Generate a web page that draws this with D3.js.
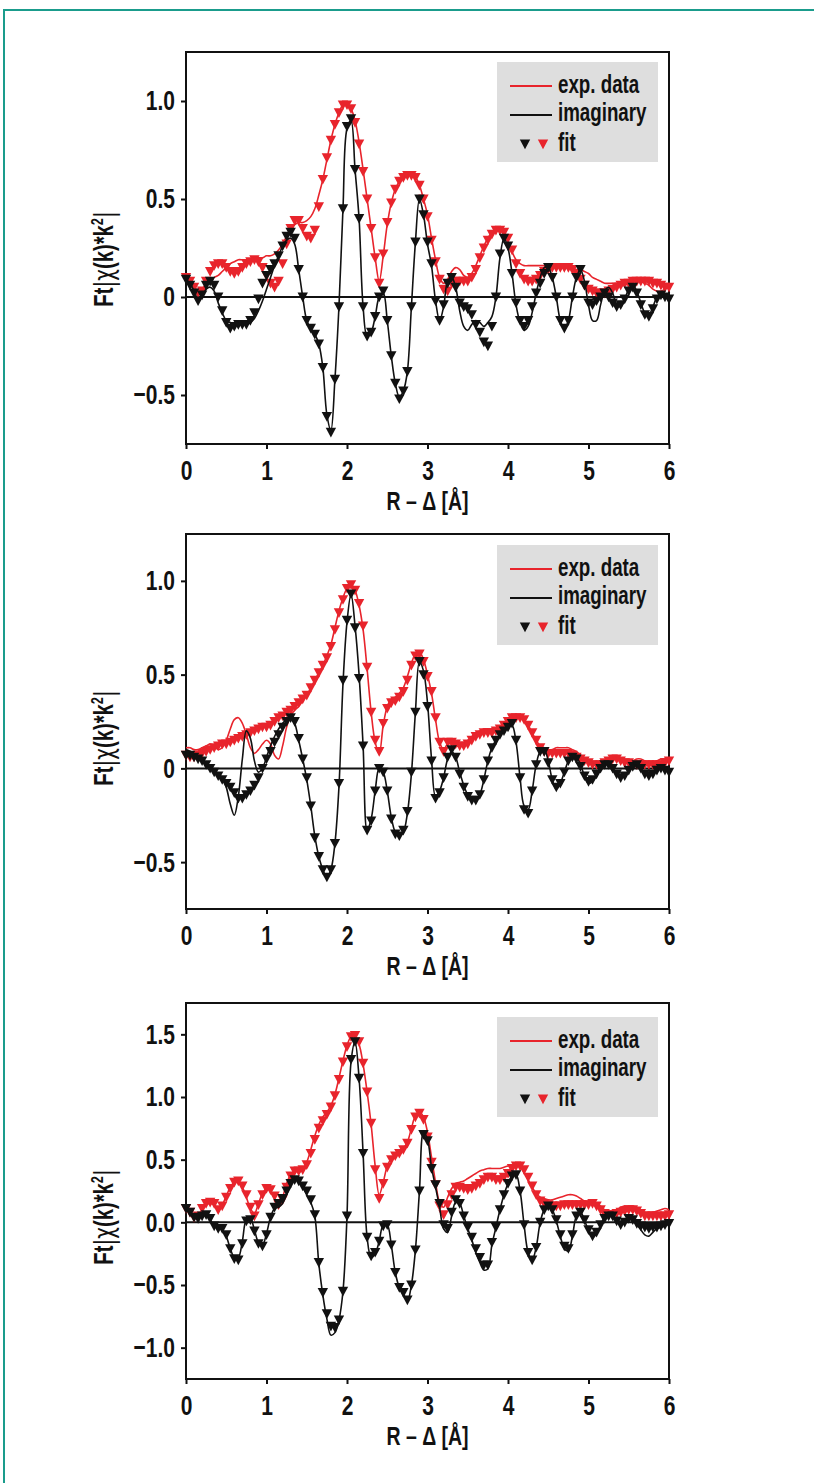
<!DOCTYPE html>
<html>
<head>
<meta charset="utf-8">
<script src="https://cdn.jsdelivr.net/npm/d3@7"></script>
<style>
  body { margin: 0; background: #fff; }
  svg text { font-family: "Liberation Sans", Arial, sans-serif; font-weight: bold; fill: #111; }
</style>
</head>
<body>
<div class="chart"></div>
<script>
// R grid of the transforms: 0 .. 6 A in 0.05 A steps (121 points)
var rGrid = d3.range(121).map(function(i) { return +(i * 0.05).toFixed(2); });

// ---- panel 1 ----
var p1MagExp = [
  0.09, 0.08, 0.05, 0.03, 0.04, 0.07, 0.09, 0.10, 0.11, 0.13,
  0.15, 0.17, 0.18, 0.19, 0.19, 0.19, 0.19, 0.20, 0.20, 0.20,
  0.21, 0.21, 0.22, 0.24, 0.27, 0.31, 0.35, 0.37, 0.38, 0.38,
  0.39, 0.41, 0.45, 0.52, 0.60, 0.70, 0.80, 0.88, 0.94, 0.98,
  0.98, 0.96, 0.90, 0.79, 0.65, 0.50, 0.35, 0.20, 0.08, 0.21,
  0.37, 0.48, 0.55, 0.59, 0.61, 0.62, 0.62, 0.61, 0.57, 0.50,
  0.42, 0.30, 0.19, 0.10, 0.07, 0.09, 0.13, 0.15, 0.14, 0.11,
  0.10, 0.12, 0.16, 0.21, 0.26, 0.30, 0.33, 0.34, 0.34, 0.32,
  0.28, 0.23, 0.19, 0.17, 0.16, 0.16, 0.16, 0.16, 0.16, 0.16,
  0.16, 0.16, 0.16, 0.15, 0.15, 0.15, 0.15, 0.14, 0.14, 0.13,
  0.12, 0.10, 0.09, 0.08, 0.07, 0.07, 0.07, 0.07, 0.06, 0.06,
  0.07, 0.08, 0.08, 0.08, 0.07, 0.06, 0.04, 0.03, 0.03, 0.04,
  0.05
];
var p1MagFit = [
  0.10, 0.08, 0.05, 0.02, 0.03, 0.08, 0.13, 0.16, 0.17, 0.17,
  0.15, 0.13, 0.12, 0.13, 0.15, 0.17, 0.18, 0.19, 0.18, 0.15,
  0.11, 0.07, 0.05, 0.08, 0.17, 0.27, 0.35, 0.39, 0.39, 0.35,
  0.31, 0.30, 0.34, 0.46, 0.60, 0.71, 0.80, 0.88, 0.94, 0.98,
  0.98, 0.96, 0.89, 0.78, 0.64, 0.50, 0.35, 0.20, 0.07, 0.22,
  0.38, 0.48, 0.55, 0.59, 0.61, 0.62, 0.62, 0.61, 0.57, 0.50,
  0.41, 0.29, 0.18, 0.09, 0.04, 0.03, 0.07, 0.08, 0.08, 0.08,
  0.08, 0.10, 0.14, 0.20, 0.25, 0.29, 0.32, 0.34, 0.34, 0.33,
  0.30, 0.24, 0.17, 0.12, 0.09, 0.08, 0.08, 0.09, 0.11, 0.13,
  0.14, 0.15, 0.15, 0.15, 0.15, 0.15, 0.14, 0.12, 0.09, 0.06,
  0.04, 0.03, 0.02, 0.02, 0.02, 0.03, 0.04, 0.05, 0.06, 0.07,
  0.07, 0.08, 0.08, 0.08, 0.08, 0.08, 0.07, 0.07, 0.06, 0.05,
  0.05
];
var p1ImExp = [
  0.09, 0.07, 0.03, -0.01, 0.00, 0.04, 0.05, 0.03, -0.03, -0.08,
  -0.12, -0.13, -0.14, -0.14, -0.14, -0.14, -0.13, -0.11, -0.07, -0.02,
  0.04, 0.10, 0.16, 0.21, 0.26, 0.29, 0.30, 0.27, 0.14, 0.00,
  -0.12, -0.16, -0.19, -0.24, -0.36, -0.60, -0.68, -0.42, -0.05, 0.45,
  0.86, 0.90, 0.65, 0.40, -0.05, -0.20, -0.18, -0.10, 0.00, 0.02,
  -0.12, -0.30, -0.44, -0.51, -0.48, -0.38, -0.05, 0.28, 0.50, 0.42,
  0.27, 0.16, -0.02, -0.12, -0.05, 0.08, 0.10, 0.05, -0.07, -0.15,
  -0.17, -0.14, -0.12, -0.13, -0.15, -0.13, -0.10, 0.00, 0.20, 0.30,
  0.25, 0.12, -0.04, -0.13, -0.17, -0.15, -0.08, 0.02, 0.10, 0.15,
  0.15, 0.10, 0.00, -0.12, -0.16, -0.12, 0.00, 0.10, 0.14, 0.08,
  -0.04, -0.12, -0.12, -0.04, 0.03, 0.05, 0.02, -0.04, -0.05, -0.01,
  0.04, 0.06, 0.03, -0.03, -0.08, -0.09, -0.05, 0.00, 0.02, 0.00,
  -0.01
];
var p1ImFit = [
  0.09, 0.06, 0.02, -0.02, 0.01, 0.06, 0.08, 0.06, 0.00, -0.07,
  -0.13, -0.16, -0.15, -0.14, -0.14, -0.14, -0.12, -0.08, -0.01, 0.07,
  0.11, 0.14, 0.17, 0.21, 0.26, 0.31, 0.33, 0.30, 0.14, 0.00,
  -0.12, -0.16, -0.19, -0.24, -0.36, -0.61, -0.69, -0.42, -0.05, 0.45,
  0.87, 0.91, 0.65, 0.40, -0.05, -0.20, -0.18, -0.10, 0.00, 0.03,
  -0.12, -0.30, -0.44, -0.52, -0.48, -0.38, -0.05, 0.28, 0.50, 0.42,
  0.28, 0.17, -0.02, -0.12, -0.04, 0.07, 0.10, 0.05, -0.03, -0.05,
  -0.06, -0.09, -0.14, -0.18, -0.23, -0.25, -0.15, 0.00, 0.22, 0.30,
  0.26, 0.12, -0.03, -0.12, -0.15, -0.12, -0.05, 0.02, 0.07, 0.12,
  0.15, 0.10, 0.00, -0.12, -0.16, -0.12, 0.00, 0.10, 0.14, 0.06,
  -0.03, -0.04, -0.02, 0.00, 0.02, 0.00, -0.03, -0.05, -0.04, -0.01,
  0.03, 0.05, 0.02, -0.04, -0.09, -0.10, -0.06, -0.01, 0.01, 0.00,
  -0.01
];

// ---- panel 2 ----
var p2MagExp = [
  0.11, 0.11, 0.10, 0.10, 0.11, 0.12, 0.13, 0.12, 0.10, 0.11,
  0.15, 0.21, 0.26, 0.27, 0.24, 0.18, 0.11, 0.08, 0.10, 0.13,
  0.15, 0.13, 0.07, 0.05, 0.12, 0.22, 0.28, 0.31, 0.33, 0.36,
  0.39, 0.43, 0.47, 0.51, 0.55, 0.60, 0.66, 0.75, 0.84, 0.91,
  0.96, 0.98, 0.95, 0.87, 0.74, 0.53, 0.30, 0.14, 0.08, 0.23,
  0.33, 0.37, 0.38, 0.40, 0.43, 0.49, 0.56, 0.61, 0.62, 0.58,
  0.50, 0.40, 0.26, 0.14, 0.10, 0.13, 0.13, 0.12, 0.12, 0.13,
  0.15, 0.17, 0.19, 0.20, 0.21, 0.21, 0.21, 0.21, 0.22, 0.24,
  0.26, 0.27, 0.27, 0.27, 0.26, 0.23, 0.19, 0.15, 0.12, 0.11,
  0.10, 0.10, 0.11, 0.11, 0.11, 0.11, 0.10, 0.09, 0.07, 0.05,
  0.04, 0.03, 0.03, 0.03, 0.04, 0.05, 0.05, 0.05, 0.04, 0.04,
  0.04, 0.04, 0.05, 0.05, 0.04, 0.03, 0.03, 0.04, 0.05, 0.05,
  0.04
];
var p2MagFit = [
  0.07, 0.06, 0.06, 0.07, 0.08, 0.09, 0.10, 0.11, 0.12, 0.13,
  0.13, 0.14, 0.15, 0.16, 0.17, 0.18, 0.19, 0.20, 0.21, 0.22,
  0.22, 0.23, 0.25, 0.27, 0.28, 0.30, 0.31, 0.33, 0.35, 0.37,
  0.39, 0.43, 0.47, 0.51, 0.55, 0.59, 0.65, 0.74, 0.83, 0.90,
  0.96, 0.98, 0.95, 0.88, 0.76, 0.54, 0.30, 0.15, 0.09, 0.24,
  0.32, 0.35, 0.36, 0.38, 0.41, 0.47, 0.55, 0.60, 0.61, 0.57,
  0.49, 0.41, 0.27, 0.14, 0.09, 0.14, 0.14, 0.13, 0.12, 0.12,
  0.13, 0.15, 0.17, 0.18, 0.19, 0.19, 0.19, 0.20, 0.21, 0.23,
  0.25, 0.27, 0.27, 0.27, 0.26, 0.23, 0.19, 0.15, 0.11, 0.09,
  0.08, 0.08, 0.08, 0.08, 0.08, 0.08, 0.07, 0.06, 0.05, 0.04,
  0.03, 0.02, 0.02, 0.02, 0.03, 0.04, 0.05, 0.05, 0.04, 0.03,
  0.03, 0.02, 0.02, 0.02, 0.02, 0.02, 0.02, 0.02, 0.02, 0.03,
  0.04
];
var p2ImExp = [
  0.10, 0.09, 0.07, 0.06, 0.05, 0.03, 0.01, -0.01, -0.03, -0.05,
  -0.10, -0.19, -0.25, -0.15, 0.05, 0.20, 0.16, 0.04, -0.02, 0.00,
  0.06, 0.12, 0.17, 0.21, 0.24, 0.26, 0.27, 0.24, 0.15, 0.05,
  -0.06, -0.20, -0.36, -0.47, -0.54, -0.58, -0.54, -0.40, -0.10, 0.45,
  0.78, 0.93, 0.76, 0.50, 0.12, -0.33, -0.27, -0.12, 0.00, -0.02,
  -0.12, -0.26, -0.34, -0.36, -0.34, -0.24, -0.03, 0.30, 0.57, 0.52,
  0.35, 0.05, -0.15, -0.12, -0.05, 0.05, 0.09, 0.06, -0.02, -0.09,
  -0.14, -0.16, -0.17, -0.14, -0.06, 0.04, 0.11, 0.15, 0.18, 0.20,
  0.22, 0.23, 0.14, -0.05, -0.20, -0.22, -0.12, 0.02, 0.09, 0.10,
  0.04, -0.06, -0.11, -0.08, -0.02, 0.04, 0.07, 0.06, 0.02, -0.04,
  -0.08, -0.07, -0.03, 0.01, 0.03, 0.02, 0.00, -0.03, -0.05, -0.04,
  -0.01, 0.02, 0.02, 0.00, -0.03, -0.04, -0.03, -0.01, 0.00, -0.01,
  -0.02
];
var p2ImFit = [
  0.07, 0.07, 0.06, 0.05, 0.04, 0.02, 0.00, -0.02, -0.04, -0.06,
  -0.08, -0.10, -0.13, -0.16, -0.16, -0.14, -0.12, -0.09, -0.05, 0.00,
  0.05, 0.09, 0.14, 0.18, 0.22, 0.25, 0.27, 0.25, 0.16, 0.05,
  -0.05, -0.20, -0.37, -0.47, -0.54, -0.58, -0.54, -0.40, -0.08, 0.47,
  0.79, 0.93, 0.75, 0.48, 0.12, -0.33, -0.28, -0.12, 0.00, -0.02,
  -0.12, -0.27, -0.35, -0.36, -0.33, -0.23, -0.02, 0.30, 0.57, 0.50,
  0.33, 0.04, -0.16, -0.13, -0.05, 0.06, 0.10, 0.06, -0.03, -0.10,
  -0.15, -0.17, -0.17, -0.14, -0.06, 0.04, 0.11, 0.15, 0.18, 0.20,
  0.22, 0.24, 0.15, -0.05, -0.22, -0.24, -0.12, 0.02, 0.09, 0.09,
  0.03, -0.06, -0.10, -0.08, -0.02, 0.04, 0.06, 0.05, 0.01, -0.04,
  -0.07, -0.06, -0.03, 0.00, 0.02, 0.02, 0.00, -0.03, -0.05, -0.04,
  -0.01, 0.01, 0.02, 0.00, -0.03, -0.04, -0.03, -0.01, 0.00, -0.01,
  -0.02
];

// ---- panel 3 ----
var p3MagExp = [
  0.12, 0.09, 0.05, 0.05, 0.10, 0.14, 0.15, 0.14, 0.11, 0.14,
  0.21, 0.28, 0.32, 0.32, 0.28, 0.20, 0.11, 0.07, 0.15, 0.23,
  0.27, 0.25, 0.19, 0.13, 0.20, 0.31, 0.38, 0.41, 0.40, 0.42,
  0.48, 0.58, 0.69, 0.78, 0.84, 0.88, 0.93, 1.02, 1.15, 1.29,
  1.41, 1.48, 1.48, 1.42, 1.26, 1.04, 0.78, 0.45, 0.22, 0.32,
  0.45, 0.51, 0.54, 0.56, 0.59, 0.64, 0.75, 0.85, 0.88, 0.84,
  0.72, 0.52, 0.32, 0.16, 0.12, 0.20, 0.27, 0.31, 0.32, 0.33,
  0.35, 0.37, 0.39, 0.41, 0.42, 0.43, 0.43, 0.43, 0.43, 0.44,
  0.45, 0.46, 0.46, 0.44, 0.40, 0.34, 0.28, 0.23, 0.20, 0.19,
  0.18, 0.18, 0.19, 0.20, 0.21, 0.22, 0.22, 0.21, 0.19, 0.17,
  0.16, 0.16, 0.15, 0.13, 0.10, 0.09, 0.09, 0.10, 0.12, 0.13,
  0.13, 0.13, 0.12, 0.10, 0.08, 0.08, 0.08, 0.09, 0.10, 0.11,
  0.10
];
var p3MagFit = [
  0.11, 0.08, 0.04, 0.05, 0.11, 0.15, 0.16, 0.15, 0.10, 0.13,
  0.20, 0.27, 0.32, 0.33, 0.29, 0.22, 0.12, 0.05, 0.14, 0.22,
  0.27, 0.26, 0.21, 0.14, 0.18, 0.28, 0.37, 0.41, 0.41, 0.42,
  0.46, 0.55, 0.66, 0.75, 0.81, 0.86, 0.92, 1.01, 1.14, 1.28,
  1.40, 1.48, 1.49, 1.44, 1.27, 1.04, 0.79, 0.42, 0.19, 0.31,
  0.44, 0.50, 0.53, 0.55, 0.58, 0.63, 0.74, 0.84, 0.87, 0.82,
  0.68, 0.48, 0.30, 0.13, 0.06, 0.14, 0.22, 0.28, 0.28, 0.27,
  0.26, 0.27, 0.29, 0.31, 0.34, 0.36, 0.36, 0.34, 0.34, 0.36,
  0.39, 0.43, 0.45, 0.45, 0.42, 0.36, 0.29, 0.22, 0.17, 0.15,
  0.14, 0.13, 0.13, 0.13, 0.14, 0.14, 0.14, 0.14, 0.14, 0.14,
  0.14, 0.15, 0.13, 0.10, 0.07, 0.06, 0.06, 0.07, 0.08, 0.09,
  0.10, 0.10, 0.09, 0.07, 0.05, 0.05, 0.05, 0.05, 0.05, 0.05,
  0.06
];
var p3ImExp = [
  0.11, 0.08, 0.05, 0.04, 0.05, 0.05, 0.02, -0.03, -0.05, -0.06,
  -0.11, -0.21, -0.28, -0.28, -0.15, 0.02, 0.03, -0.06, -0.16, -0.18,
  -0.09, 0.04, 0.11, 0.12, 0.15, 0.22, 0.30, 0.34, 0.33, 0.28,
  0.22, 0.16, 0.05, -0.33, -0.58, -0.77, -0.90, -0.88, -0.78, -0.55,
  0.05, 1.28, 1.44, 1.15, 0.55, -0.12, -0.28, -0.25, -0.15, -0.02,
  -0.02, -0.18, -0.40, -0.52, -0.57, -0.63, -0.50, -0.22, 0.25, 0.72,
  0.66, 0.44, 0.28, 0.12, -0.05, -0.08, 0.05, 0.16, 0.15, 0.05,
  -0.05, -0.14, -0.24, -0.32, -0.38, -0.37, -0.18, -0.04, 0.10, 0.22,
  0.31, 0.37, 0.38, 0.25, -0.02, -0.24, -0.30, -0.20, 0.00, 0.10,
  0.13, 0.10, 0.01, -0.11, -0.21, -0.23, -0.11, 0.05, 0.08, 0.02,
  -0.07, -0.12, -0.09, -0.02, 0.04, 0.06, 0.05, 0.01, -0.02, 0.00,
  0.03, 0.02, -0.02, -0.06, -0.10, -0.11, -0.08, -0.05, -0.04, -0.03,
  -0.01
];
var p3ImFit = [
  0.11, 0.08, 0.04, 0.03, 0.05, 0.06, 0.03, -0.03, -0.05, -0.05,
  -0.10, -0.21, -0.29, -0.30, -0.17, 0.01, 0.02, -0.07, -0.17, -0.19,
  -0.10, 0.04, 0.12, 0.15, 0.19, 0.25, 0.31, 0.34, 0.33, 0.29,
  0.25, 0.18, 0.06, -0.32, -0.56, -0.73, -0.83, -0.84, -0.78, -0.55,
  0.05, 1.30, 1.44, 1.15, 0.55, -0.12, -0.27, -0.24, -0.15, -0.03,
  -0.02, -0.18, -0.40, -0.52, -0.56, -0.62, -0.50, -0.22, 0.25, 0.70,
  0.65, 0.43, 0.30, 0.15, -0.02, -0.05, 0.08, 0.18, 0.15, 0.05,
  -0.04, -0.12, -0.21, -0.28, -0.34, -0.34, -0.16, -0.04, 0.10, 0.22,
  0.31, 0.37, 0.38, 0.25, -0.02, -0.24, -0.30, -0.20, 0.00, 0.10,
  0.13, 0.10, 0.02, -0.10, -0.19, -0.21, -0.10, 0.05, 0.08, 0.02,
  -0.06, -0.11, -0.08, -0.02, 0.03, 0.05, 0.05, 0.01, -0.02, 0.00,
  0.03, 0.02, -0.01, -0.03, -0.04, -0.05, -0.04, -0.04, -0.03, -0.02,
  -0.01
];

// ticks and labels
var xTicks = [0, 1, 2, 3, 4, 5, 6];
var yTicksA = [-0.5, 0, 0.5, 1.0];
var yLabelsA = ["\u22120.5", "0", "0.5", "1.0"];
var yTicksB = [-1.0, -0.5, 0, 0.5, 1.0, 1.5];
var yLabelsB = ["\u22121.0", "\u22120.5", "0.0", "0.5", "1.0", "1.5"];
var legendLabels = ["exp. data", "imaginary", "fit"];

var red = "#e8242c";
var black = "#111";
var squeeze = 0.75;   // condensed look for the bold labels

var svgWidth = 814;
var svgHeight = 1483;
var plotLeft = 186;
var plotRight = 669;

var svg = d3.select(".chart")
  .append("svg")
  .attr("width", svgWidth)
  .attr("height", svgHeight);

// teal page frame (top and left edges)
svg.append("path")
  .attr("d", "M4," + svgHeight + "V10H" + svgWidth)
  .attr("fill", "none")
  .attr("stroke", "#1a9c8c")
  .attr("stroke-width", 2);

var panels = [
  { top: 52, bottom: 444, yDomain: [-0.75, 1.25], ticks: yTicksA, labels: yLabelsA, legendTop: 62, labelMid: 259,
    magExp: p1MagExp, magFit: p1MagFit, imExp: p1ImExp, imFit: p1ImFit },
  { top: 534, bottom: 909, yDomain: [-0.75, 1.25], ticks: yTicksA, labels: yLabelsA, legendTop: 545, labelMid: 738,
    magExp: p2MagExp, magFit: p2MagFit, imExp: p2ImExp, imFit: p2ImFit },
  { top: 1003, bottom: 1379, yDomain: [-1.25, 1.75], ticks: yTicksB, labels: yLabelsB, legendTop: 1017, labelMid: 1217,
    magExp: p3MagExp, magFit: p3MagFit, imExp: p3ImExp, imFit: p3ImFit }
];

// downward triangle marker
var tri = "M-5.2,-4.5L5.2,-4.5L0,5.2Z";

panels.forEach(drawPanel);

// narrow a text horizontally while keeping its anchor point
function condense(sel) {
  sel.each(function() {
    var t = d3.select(this);
    var x0 = +t.attr("x") || 0;
    t.attr("x", x0 / squeeze).attr("transform", `scale(${squeeze},1)`);
  });
}

function drawPanel(p) {
  var x = d3.scaleLinear().domain([0, 6]).range([plotLeft, plotRight]);
  var y = d3.scaleLinear().domain(p.yDomain).range([p.bottom, p.top]);
  var g = svg.append("g");

  // plot frame
  g.append("rect")
    .attr("x", plotLeft)
    .attr("y", p.top)
    .attr("width", plotRight - plotLeft)
    .attr("height", p.bottom - p.top)
    .attr("fill", "none")
    .attr("stroke", black)
    .attr("stroke-width", 2);

  // axes
  var xAxis = g.append("g")
    .attr("transform", `translate(0, ${p.bottom})`)
    .call(d3.axisBottom(x).tickValues(xTicks).tickFormat(d3.format("d")).tickSize(5).tickPadding(11));
  var yAxis = g.append("g")
    .attr("transform", `translate(${plotLeft}, 0)`)
    .call(d3.axisLeft(y).tickValues(p.ticks).tickFormat((d, i) => p.labels[i]).tickSize(5).tickPadding(6));
  [xAxis, yAxis].forEach(function(a) {
    a.attr("font-size", 28).attr("font-family", null);
    a.select(".domain").remove();
    a.selectAll(".tick line").attr("stroke", black).attr("stroke-width", 2);
    condense(a.selectAll(".tick text"));
  });

  // zero line
  g.append("line")
    .attr("x1", plotLeft).attr("x2", plotRight)
    .attr("y1", y(0)).attr("y2", y(0))
    .attr("stroke", black)
    .attr("stroke-width", 2);

  var line = d3.line()
    .x((d, i) => x(rGrid[i]))
    .y(d => y(d))
    .curve(d3.curveCatmullRom.alpha(0.5));

  // magnitude: exp line + fit markers (red)
  g.append("path").datum(p.magExp)
    .attr("d", line).attr("fill", "none").attr("stroke", red).attr("stroke-width", 1.6);
  g.selectAll("path.mag-fit")
    .data(p.magFit)
    .enter()
    .append("path")
    .classed("mag-fit", true)
    .attr("d", tri)
    .attr("transform", (d, i) => `translate(${x(rGrid[i])}, ${y(d)})`)
    .attr("fill", red);

  // imaginary part: exp line + fit markers (black)
  g.append("path").datum(p.imExp)
    .attr("d", line).attr("fill", "none").attr("stroke", black).attr("stroke-width", 1.6);
  g.selectAll("path.im-fit")
    .data(p.imFit)
    .enter()
    .append("path")
    .classed("im-fit", true)
    .attr("d", tri)
    .attr("transform", (d, i) => `translate(${x(rGrid[i])}, ${y(d)})`)
    .attr("fill", black);

  // axis titles
  g.append("text")
    .attr("transform", `translate(${(plotLeft + plotRight) / 2}, ${p.bottom + 66}) scale(${squeeze},1)`)
    .attr("text-anchor", "middle")
    .attr("font-size", 26)
    .text("R \u2013 \u0394 [\u00c5]");

  var yl = g.append("text")
    .attr("transform", `translate(113, ${p.labelMid}) rotate(-90) scale(${squeeze},1)`)
    .attr("text-anchor", "middle")
    .attr("font-size", 27);
  yl.append("tspan").text("Ft");
  yl.append("tspan").attr("font-weight", "normal").attr("font-family", "DejaVu Sans").text("|\u03c7");
  yl.append("tspan").text("(k)*k");
  yl.append("tspan").attr("dy", -10).attr("font-size", 17).text("2");
  yl.append("tspan").attr("dy", 10).attr("font-weight", "normal").attr("font-family", "DejaVu Sans").text("|");

  // legend
  var lg = g.append("g").attr("transform", `translate(497, ${p.legendTop})`);
  lg.append("rect").attr("width", 161).attr("height", 100).attr("fill", "#dedede");
  lg.append("line").attr("x1", 13).attr("x2", 55).attr("y1", 24).attr("y2", 24)
    .attr("stroke", red).attr("stroke-width", 1.8);
  lg.append("line").attr("x1", 13).attr("x2", 55).attr("y1", 53).attr("y2", 53)
    .attr("stroke", black).attr("stroke-width", 1.8);
  lg.append("path").attr("d", tri).attr("transform", "translate(28, 82)").attr("fill", black);
  lg.append("path").attr("d", tri).attr("transform", "translate(46, 82)").attr("fill", red);
  lg.selectAll("text.legend")
    .data(legendLabels)
    .enter()
    .append("text")
    .classed("legend", true)
    .attr("transform", (d, i) => `translate(61, ${[31, 59, 89][i]}) scale(${squeeze},1)`)
    .attr("font-size", 25)
    .text(d => d);
}
</script>
</body>
</html>
